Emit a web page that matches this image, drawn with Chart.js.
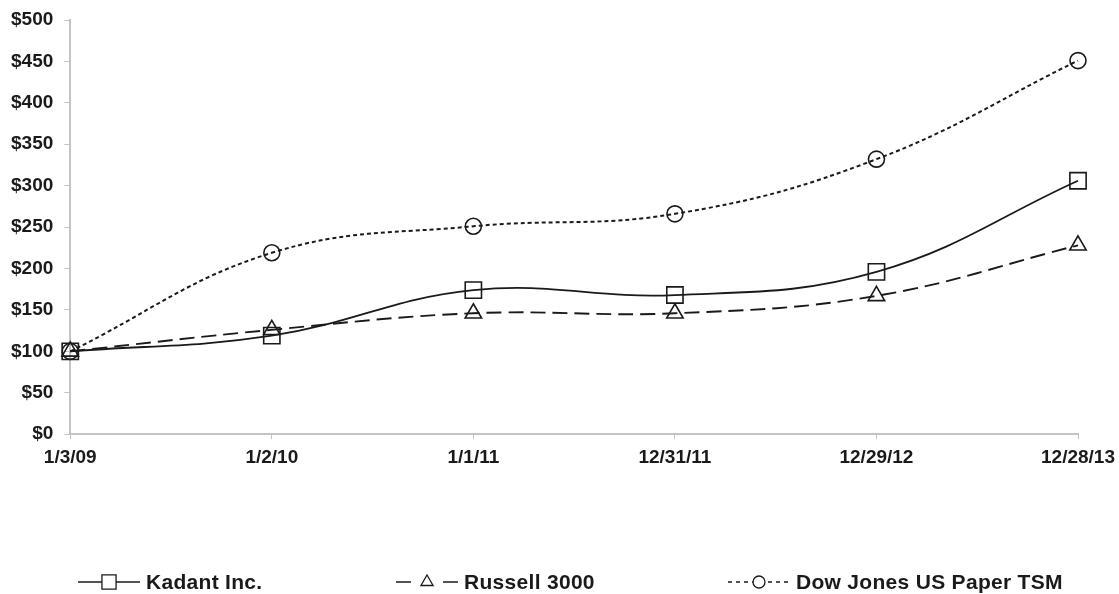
<!DOCTYPE html>
<html>
<head>
<meta charset="utf-8">
<script src="https://cdn.jsdelivr.net/npm/chart.js@4"></script>
<style>
  html, body { margin: 0; padding: 0; background: #fff; }
  #wrap { width: 1119px; height: 594px; }
</style>
</head>
<body>
<div id="wrap"><canvas id="perfChart"></canvas></div>
<script>
const dates = ['1/3/09', '1/2/10', '1/1/11', '12/31/11', '12/29/12', '12/28/13'];
const kadant = [100, 119, 174, 168, 196, 306];
const russell = [100, 126, 146, 146, 167, 228];
const dowPaper = [100, 219, 251, 266, 332, 451];
const yTicks = [0, 50, 100, 150, 200, 250, 300, 350, 400, 450, 500];

const FONT = '"Liberation Sans", Arial, sans-serif';
const INK = '#1a1a1a';
const AXIS = '#c4c4c4';

// legend drawn under the axis: line sample with the marker in the middle
const lineLegend = {
    id: 'lineLegend',
    afterDraw(chart) {
        const ctx = chart.ctx;
        const starts = [78, 396, 728];
        const len = 62;
        const y = 582;
        ctx.save();
        chart.data.datasets.forEach((ds, i) => {
            const x = starts[i];
            ctx.strokeStyle = INK;
            ctx.lineWidth = 1.6;
            ctx.setLineDash(ds.legendDash);
            ctx.beginPath();
            ctx.moveTo(x, y);
            ctx.lineTo(x + len, y);
            ctx.stroke();
            ctx.setLineDash([]);
            ctx.fillStyle = '#fff';
            ctx.strokeStyle = INK;
            ctx.lineWidth = 1.3;
            Chart.helpers.drawPoint(ctx, {
                pointStyle: ds.pointStyle,
                radius: ds.legendRadius,
                borderWidth: 1.3
            }, x + len / 2, y);
            ctx.fillStyle = INK;
            ctx.font = 'bold 21px ' + FONT;
            ctx.letterSpacing = '0.3px';
            ctx.textBaseline = 'middle';
            ctx.fillText(ds.label, x + len + 6, y + 1);
        });
        ctx.restore();
    }
};

new Chart(document.getElementById('perfChart').getContext('2d'), {
    type: 'line',
    data: {
        labels: dates,
        datasets: [
            {
                label: 'Kadant Inc.',
                data: kadant,
                borderColor: INK,
                borderWidth: 1.8,
                pointStyle: 'rect',
                pointRadius: 11.5,
                legendRadius: 10,
                legendDash: [],
                pointBorderWidth: 1.6,
                pointBackgroundColor: 'rgba(255,255,255,0)',
                pointBorderColor: INK,
                tension: 0.4
            },
            {
                label: 'Russell 3000',
                data: russell,
                borderColor: INK,
                borderWidth: 1.9,
                borderDash: [15, 7],
                legendDash: [15, 32],
                pointStyle: 'triangle',
                pointRadius: 9.5,
                legendRadius: 7,
                pointBorderWidth: 1.6,
                pointBackgroundColor: 'rgba(255,255,255,0)',
                pointBorderColor: INK,
                tension: 0.4
            },
            {
                label: 'Dow Jones US Paper TSM',
                data: dowPaper,
                borderColor: INK,
                borderWidth: 2,
                borderDash: [4, 3],
                legendDash: [4, 4],
                pointStyle: 'circle',
                pointRadius: 8,
                legendRadius: 6,
                pointBorderWidth: 1.6,
                pointBackgroundColor: 'rgba(255,255,255,0)',
                pointBorderColor: INK,
                tension: 0.4
            }
        ]
    },
    options: {
        responsive: true,
        maintainAspectRatio: false,
        animation: false,
        layout: { padding: { left: 0, top: 20, right: 0, bottom: 118 } },
        plugins: {
            legend: { display: false },
            tooltip: { enabled: false }
        },
        scales: {
            x: {
                offset: false,
                afterFit(axis) { axis.paddingRight = 41; },
                grid: { display: true, drawOnChartArea: false, tickLength: 5, color: AXIS },
                border: { color: AXIS, width: 2 },
                ticks: {
                    color: INK,
                    font: { family: FONT, size: 19, weight: 'bold' },
                    maxRotation: 0,
                    padding: 7
                }
            },
            y: {
                min: 0,
                max: 500,
                afterBuildTicks(axis) { axis.ticks = yTicks.map(v => ({ value: v })); },
                afterFit(axis) { axis.paddingTop = 0; },
                grid: { display: true, drawOnChartArea: false, tickLength: 6, color: AXIS },
                border: { color: AXIS, width: 2 },
                ticks: {
                    color: INK,
                    font: { family: FONT, size: 19, weight: 'bold' },
                    padding: 11,
                    callback: v => '$' + v
                }
            }
        }
    },
    plugins: [lineLegend]
});
</script>
</body>
</html>
